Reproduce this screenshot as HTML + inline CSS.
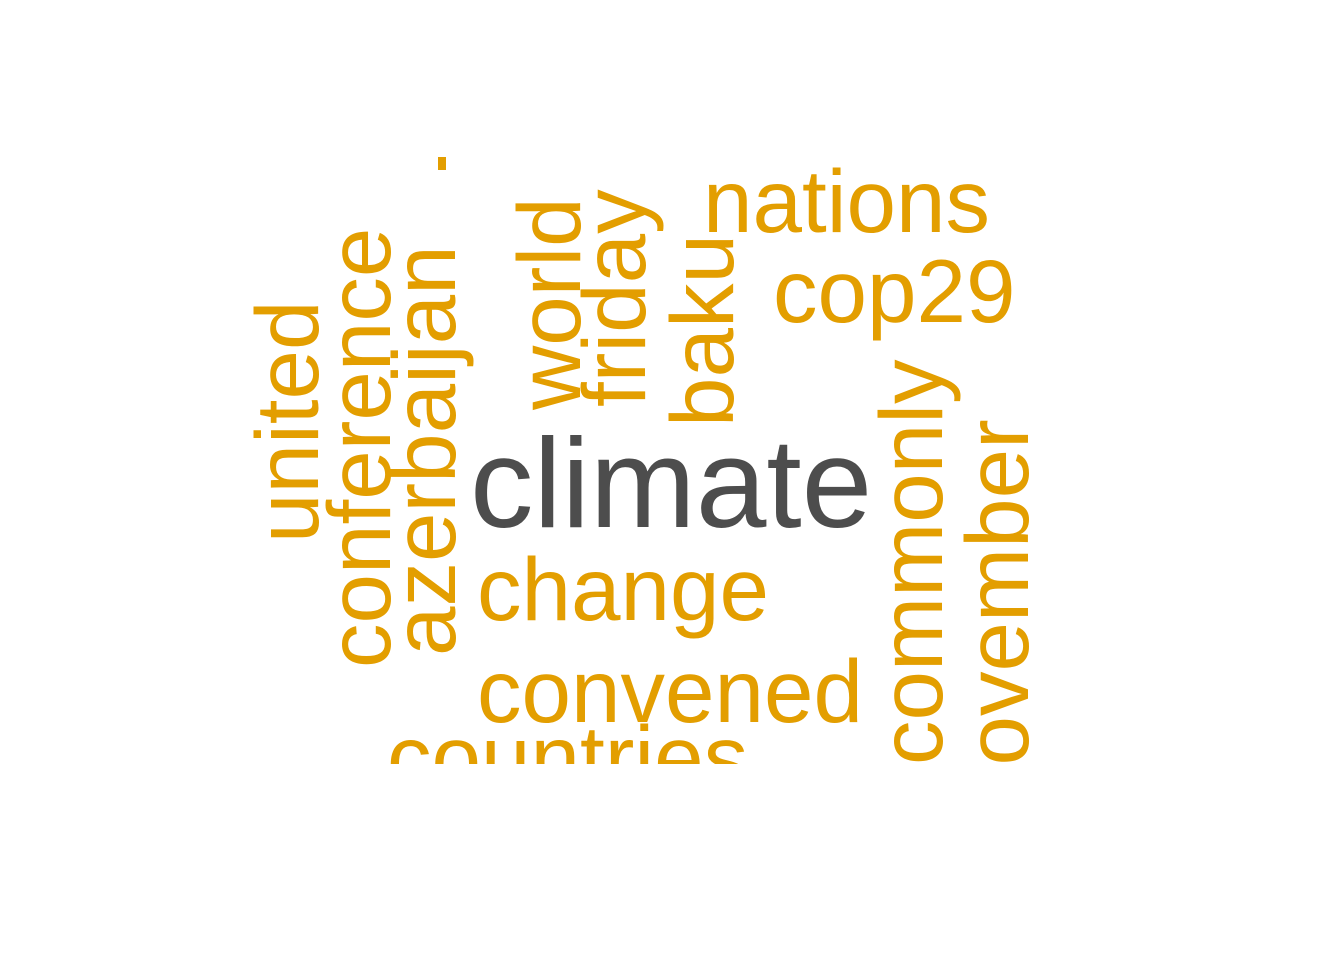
<!DOCTYPE html>
<html><head><meta charset="utf-8"><style>
html,body{margin:0;padding:0;background:#fff;}
svg{display:block;}
text{font-family:"Liberation Sans",Arial,sans-serif;}
</style></head><body>
<svg id="cloud" width="1344" height="960" viewBox="0 0 1344 960" xmlns="http://www.w3.org/2000/svg">
<defs><clipPath id="clip"><rect x="0" y="157" width="1344" height="607"/></clipPath></defs>
<rect width="1344" height="960" fill="#fff"/>
<g id="words" clip-path="url(#clip)"></g>
<rect x="438" y="157" width="8" height="13" fill="#E39E00"/>
</svg>
<script>
const words = ["climate","nations","cop29","change","convened","countries","united","conference","azerbaijan","world","friday","baku","commonly","november"];
const freqs = [3,1,1,1,1,1,1,1,1,1,1,1,1,1];
const anchorX = [470,703,773,477,477,387,318,390,455,580,645,733,942,1028];
const anchorY = [527,232,322,620,722,788,543,668,656,410,407,427,765,815];
const rotated = [0,0,0,0,0,0,1,1,1,1,1,1,1,1];
const g = document.getElementById('words');
const NS = 'http://www.w3.org/2000/svg';
function sizeFor(f){ return f > 1 ? 127 : 89; }
words.forEach((w,i)=>{
  const t = document.createElementNS(NS,'text');
  
  
  t.setAttribute('x', anchorX[i]);
  t.setAttribute('y', anchorY[i]);
  t.setAttribute('font-size', sizeFor(freqs[i]));
  t.setAttribute('fill', freqs[i] > 1 ? '#4D4D4D' : '#E39E00');
  if (rotated[i]) t.setAttribute('transform', `rotate(-90 ${anchorX[i]} ${anchorY[i]})`);
  t.textContent = w;
  g.appendChild(t);
});
</script>
</body></html>
